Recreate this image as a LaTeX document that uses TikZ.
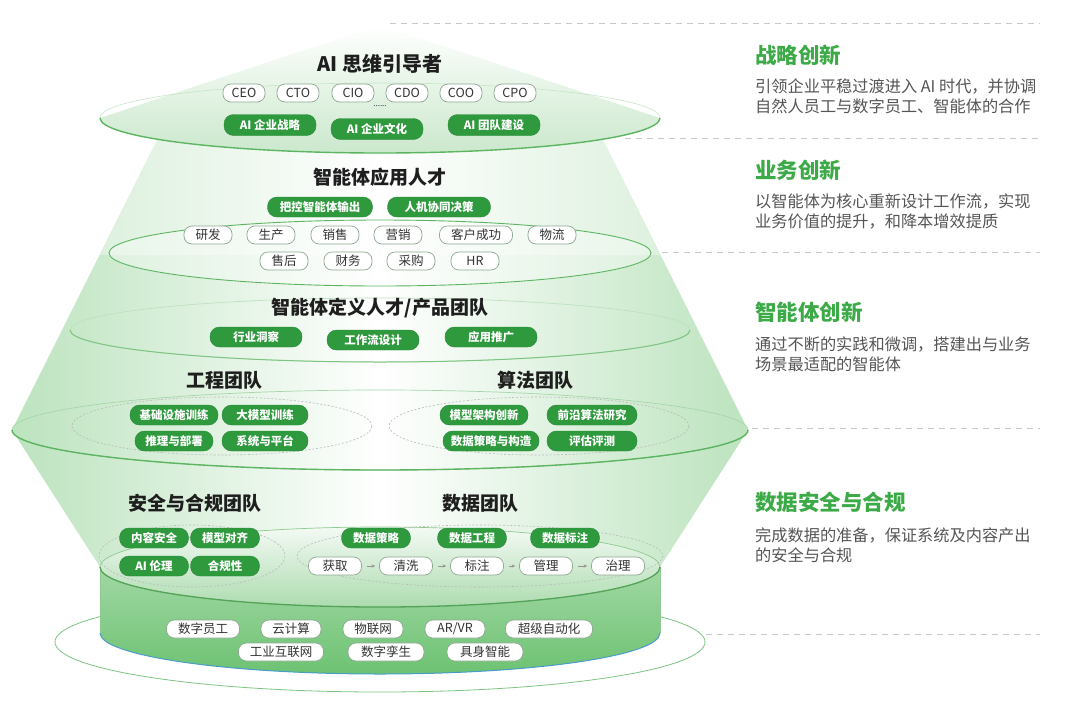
\documentclass[tikz,border=0pt]{standalone}
\usepackage{fontspec}
\setmainfont{Noto Sans CJK SC}
\usetikzlibrary{arrows.meta}
\definecolor{gchip}{HTML}{2E9A3D}
\definecolor{gchipd}{HTML}{27873A}
\definecolor{gtitle}{HTML}{3DAA48}
\definecolor{gline}{HTML}{5DB562}
\definecolor{gfill}{HTML}{BCE3BE}
\definecolor{gtop}{HTML}{CBE8CC}
\definecolor{txtd}{HTML}{1E1E1E}
\definecolor{txtg}{HTML}{333333}
\definecolor{descg}{HTML}{555555}
\definecolor{chipb}{HTML}{8FA893}
\definecolor{dashg}{HTML}{C8C8C8}
\definecolor{cylt}{HTML}{B5E0B7}
\definecolor{cylb}{HTML}{6DC272}
\definecolor{rimb}{HTML}{4A9CC8}
\begin{document}
\begin{tikzpicture}[x=1pt,y=-1pt,
  wchip/.style={draw=chipb, line width=0.7pt, fill=white, rounded corners=8pt, minimum height=18pt, inner xsep=4pt, inner ysep=0pt, text=txtg, font=\fontsize{12.5}{12.5}\selectfont},
  gchipst/.style={fill=gchip, draw=gchipd, line width=0.4pt, rounded corners=9.5pt, minimum height=20pt, inner xsep=4pt, inner ysep=0pt, text=white, font=\bfseries\fontsize{11.5}{11.5}\selectfont},
  lvltitle/.style={text=txtd, font=\bfseries\fontsize{19}{19}\selectfont, inner sep=0pt},
  sidetitle/.style={anchor=west, text=gtitle, font=\bfseries\fontsize{21.5}{21.5}\selectfont, inner sep=0pt},
  sidedesc/.style={anchor=north west, text=descg, align=left, font=\fontsize{16.2}{19.5}\selectfont, inner sep=0pt},
  guide/.style={dashg, line width=1pt, dash pattern=on 6pt off 5pt},
  teamring/.style={draw=gray!55, line width=0.6pt, dash pattern=on 2pt off 1.8pt},
  flowarrow/.style={-{Stealth[length=3.5pt,width=3.2pt]}, draw=gray!85, line width=0.7pt, shorten <=5pt, shorten >=4pt}
]
\useasboundingbox (0,0) rectangle (1080,705);
\fill[white] (0,0) rectangle (1080,705);

% guide lines on the right
\draw[guide] (390,23) -- (1040,23);
\draw[guide] (625,138) -- (1040,138);
\draw[guide] (662,252) -- (1040,252);
\draw[guide] (752,428) -- (1040,428);
\draw[guide] (706,634) -- (1040,634);

% bottom disk
\filldraw[draw=gline!80, line width=0.8pt, fill=white] (380,642) ellipse [x radius=325, y radius=50];

% lower funnel
\shade[left color=gfill, right color=gfill, middle color=white]
  (12,430) -- (100,567) arc[start angle=180, end angle=0, x radius=280, y radius=40] -- (748,430) -- cycle;
% upper frustum
\shade[left color=gfill, right color=gfill, middle color=white]
  (168,118) -- (12,430) arc[start angle=180, end angle=0, x radius=368, y radius=40] -- (592,118) -- cycle;
\fill[white, opacity=0.35] (168,118) -- (100,255) -- (660,255) -- (592,118) -- cycle;

% cylinder
\shade[top color=cylt, bottom color=cylb]
  (100,567) -- (100,633) arc[start angle=180, end angle=0, x radius=280, y radius=41] -- (660,567)
  arc[start angle=0, end angle=-180, x radius=280, y radius=40] -- cycle;
\draw[rimb, line width=1pt] (100,633) arc[start angle=180, end angle=0, x radius=280, y radius=41];
\draw[gline!70, line width=0.6pt] (100,567) -- (100,633);
\draw[gline!70, line width=0.6pt] (660,567) -- (660,633);
\shade[top color=white, bottom color=gfill!90!gline, opacity=0.85] (380,567) ellipse [x radius=280, y radius=40];
\draw[gline!70, line width=0.7pt] (380,567) ellipse [x radius=280, y radius=40];
\draw[gline!90!black, line width=1.3pt] (100,567) arc[start angle=180, end angle=0, x radius=280, y radius=40];

% big ellipse
\draw[gline!55, line width=0.7pt] (380,430) ellipse [x radius=368, y radius=40];
\draw[gline, line width=1.4pt] (12,430) arc[start angle=180, end angle=0, x radius=368, y radius=40];

% level-3 ellipse
\draw[gline!40, line width=0.7pt] (380,330) ellipse [x radius=310, y radius=32];
\draw[gline!80, line width=1pt] (70,330) arc[start angle=180, end angle=0, x radius=310, y radius=32];

% level-2 ellipse
\fill[white, opacity=0.35] (380,253) ellipse [x radius=271, y radius=33];
\draw[gline, line width=0.9pt] (380,253) ellipse [x radius=271, y radius=33];

% top cone
\shade[top color=white, bottom color=gtop]
  (380,25) -- (660,118) arc[start angle=0, end angle=180, x radius=280, y radius=35] -- cycle;
\draw[gline!35, line width=0.6pt] (660,118) arc[start angle=0, end angle=-180, x radius=280, y radius=35];
\draw[gline, line width=1.4pt] (100,118) arc[start angle=180, end angle=0, x radius=280, y radius=35];

% ===== Level 1 =====
\node[lvltitle, font=\bfseries\fontsize{20}{20}\selectfont] (t1) at (380,64) {AI 思维引导者};
\node[wchip, minimum width=42pt] (ceo) at (244,93) {CEO};
\node[wchip, minimum width=42pt] (cto) at (298,93) {CTO};
\node[wchip, minimum width=42pt] (cio) at (353,93) {CIO};
\node[wchip, minimum width=42pt] (cdo) at (407,93) {CDO};
\node[wchip, minimum width=42pt] (coo) at (461,93) {COO};
\node[wchip, minimum width=42pt] (cpo) at (515,93) {CPO};
\node[text=txtg, font=\fontsize{8}{8}\selectfont, inner sep=0pt] (dots) at (380,106) {......};
\node[gchipst, minimum width=92pt, minimum height=21pt] (s1) at (270,125) {AI 企业战略};
\node[gchipst, minimum width=92pt, minimum height=21pt] (s2) at (377,129) {AI 企业文化};
\node[gchipst, minimum width=92pt, minimum height=21pt] (s3) at (494,125) {AI 团队建设};

% ===== Level 2 =====
\node[lvltitle] (t2) at (380,177) {智能体应用人才};
\node[gchipst, minimum width=105pt] (a1) at (320,207) {把控智能体输出};
\node[gchipst, minimum width=103pt] (a2) at (439,207) {人机协同决策};
\node[wchip, minimum width=48pt] (b1) at (208,235) {研发};
\node[wchip, minimum width=48pt] (b2) at (271,235) {生产};
\node[wchip, minimum width=48pt] (b3) at (335,235) {销售};
\node[wchip, minimum width=48pt] (b4) at (398,235) {营销};
\node[wchip, minimum width=73pt] (b5) at (476,235) {客户成功};
\node[wchip, minimum width=48pt] (b6) at (552,235) {物流};
\node[wchip, minimum width=48pt] (c1) at (284,261) {售后};
\node[wchip, minimum width=48pt] (c2) at (348,261) {财务};
\node[wchip, minimum width=48pt] (c3) at (411,261) {采购};
\node[wchip, minimum width=48pt] (c4) at (475,261) {HR};

% ===== Level 3 =====
\node[lvltitle] (t3) at (380,308) {智能体定义人才/产品团队};
\node[gchipst, minimum width=92pt] (p1) at (256,337) {行业洞察};
\node[gchipst, minimum width=92pt] (p2) at (373,340) {工作流设计};
\node[gchipst, minimum width=92pt] (p3) at (491,337) {应用推广};

% ===== Engineering / Algorithm =====
\draw[teamring] (222,426) ellipse [x radius=150, y radius=29];
\draw[teamring] (539,426) ellipse [x radius=150, y radius=29];
\node[lvltitle] (t4) at (224,380) {工程团队};
\node[lvltitle] (t5) at (535,380) {算法团队};
\node[gchipst, minimum width=88pt] (e1) at (174,415) {基础设施训练};
\node[gchipst, minimum width=86pt] (e2) at (265,415) {大模型训练};
\node[gchipst, minimum width=78pt] (e3) at (174,441) {推理与部署};
\node[gchipst, minimum width=86pt] (e4) at (265,441) {系统与平台};
\node[gchipst, minimum width=88pt] (g1) at (484,415) {模型架构创新};
\node[gchipst, minimum width=90pt] (g2) at (592,415) {前沿算法研究};
\node[gchipst, minimum width=96pt] (g3) at (491,441) {数据策略与构造};
\node[gchipst, minimum width=90pt] (g4) at (592,441) {评估评测};

% ===== Safety / Data =====
\draw[teamring] (192,556) ellipse [x radius=93, y radius=31];
\draw[teamring] (480,556) ellipse [x radius=183, y radius=31];
\node[lvltitle] (t6) at (195,503) {安全与合规团队};
\node[lvltitle] (t7) at (480,503) {数据团队};
\node[gchipst, minimum width=69pt] (k1) at (154,538) {内容安全};
\node[gchipst, minimum width=69pt] (k2) at (225,538) {模型对齐};
\node[gchipst, minimum width=69pt] (k3) at (154,566) {AI 伦理};
\node[gchipst, minimum width=69pt] (k4) at (225,566) {合规性};
\node[gchipst, minimum width=69pt] (d1) at (376,538) {数据策略};
\node[gchipst, minimum width=69pt] (d2) at (472,538) {数据工程};
\node[gchipst, minimum width=69pt] (d3) at (565,538) {数据标注};
\node[wchip, minimum width=53pt] (f1) at (335,566) {获取};
\node[wchip, minimum width=53pt] (f2) at (406,566) {清洗};
\node[wchip, minimum width=53pt] (f3) at (477,566) {标注};
\node[wchip, minimum width=53pt] (f4) at (546,566) {管理};
\node[wchip, minimum width=53pt] (f5) at (618,566) {治理};
\draw[flowarrow] (f1) -- (f2);
\draw[flowarrow] (f2) -- (f3);
\draw[flowarrow] (f3) -- (f4);
\draw[flowarrow] (f4) -- (f5);

% ===== Foundation =====
\node[wchip, minimum width=73pt] (h1) at (203,629) {数字员工};
\node[wchip, minimum width=60pt] (h2) at (291,629) {云计算};
\node[wchip, minimum width=60pt] (h3) at (373,629) {物联网};
\node[wchip, minimum width=60pt] (h4) at (455,629) {AR/VR};
\node[wchip, minimum width=87pt] (h5) at (549,629) {超级自动化};
\node[wchip, minimum width=85pt] (j1) at (281,652) {工业互联网};
\node[wchip, minimum width=76pt] (j2) at (386,652) {数字孪生};
\node[wchip, minimum width=76pt] (j3) at (485,652) {具身智能};

% ===== Right side texts =====
\node[sidetitle] (r1) at (755,55) {战略创新};
\node[sidedesc] (r1d) at (755,79) {引领企业平稳过渡进入 AI 时代，并协调\\自然人员工与数字员工、智能体的合作};
\node[sidetitle] (r2) at (755,170) {业务创新};
\node[sidedesc] (r2d) at (755,194) {以智能体为核心重新设计工作流，实现\\业务价值的提升，和降本增效提质};
\node[sidetitle] (r3) at (755,312) {智能体创新};
\node[sidedesc] (r3d) at (755,337) {通过不断的实践和微调，搭建出与业务\\场景最适配的智能体};
\node[sidetitle] (r4) at (755,502) {数据安全与合规};
\node[sidedesc] (r4d) at (755,528) {完成数据的准备，保证系统及内容产出\\的安全与合规};
\end{tikzpicture}
\end{document}
